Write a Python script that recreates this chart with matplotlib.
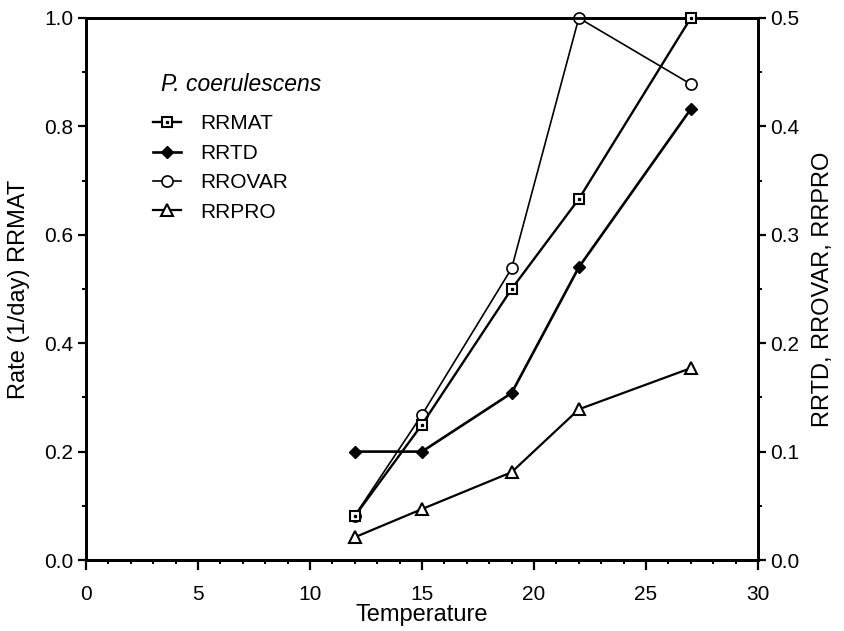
import matplotlib
matplotlib.use("Agg")
import matplotlib.pyplot as plt
from matplotlib.ticker import MultipleLocator
from matplotlib.legend_handler import HandlerTuple

plt.rcParams['font.family'] = ['Liberation Sans', 'DejaVu Sans']

# Temperatures (deg C) at which rates were measured
temperature = [12, 15, 19, 22, 27]

# Left axis: maturation rate (1/day)
rrmat = [0.081, 0.250, 0.500, 0.666, 1.000]

# Right axis rates (1/day)
rrtd = [0.100, 0.100, 0.154, 0.270, 0.416]
rrovar = [0.041, 0.134, 0.269, 0.500, 0.439]
rrpro = [0.021, 0.047, 0.081, 0.139, 0.177]

species = "P. coerulescens"
series_labels = ["RRMAT", "RRTD", "RROVAR", "RRPRO"]

fig = plt.figure(figsize=(8.44, 6.31), dpi=100)
ax = fig.add_axes([86 / 844, 71 / 631, 672 / 844, 542 / 631])
ax2 = ax.twinx()
# keep the left-axis series drawn above the right-axis ones
ax.set_zorder(ax2.get_zorder() + 1)
ax.patch.set_visible(False)

# Left axis series
l_mat, = ax.plot(temperature, rrmat, color='black', lw=1.7, marker='s',
                 ms=6.5, mfc='white', mec='black', mew=1.5, clip_on=False,
                 zorder=3)
l_matdot, = ax.plot(temperature, rrmat, ls='none', marker='s', ms=1.4,
                    mfc='black', mec='black', clip_on=False, zorder=4)

# Right axis series
l_td, = ax2.plot(temperature, rrtd, color='black', lw=1.9, marker='D',
                 ms=6, mfc='black', mec='black', clip_on=False, zorder=3)
l_ov, = ax2.plot(temperature, rrovar, color='black', lw=1.2, marker='o',
                 ms=8, mfc='white', mec='black', mew=1.2, clip_on=False,
                 zorder=3)
l_pr, = ax2.plot(temperature, rrpro, color='black', lw=1.6, marker='^',
                 ms=9, mfc='white', mec='black', mew=1.5, clip_on=False,
                 zorder=3)

ax.set_xlim(0, 30)
ax.set_ylim(0, 1.0)
ax2.set_ylim(0, 0.5)

ax.xaxis.set_major_locator(MultipleLocator(5))
ax.xaxis.set_minor_locator(MultipleLocator(1))
ax.yaxis.set_major_locator(MultipleLocator(0.2))
ax.yaxis.set_minor_locator(MultipleLocator(0.1))
ax2.yaxis.set_major_locator(MultipleLocator(0.1))
ax2.yaxis.set_minor_locator(MultipleLocator(0.05))

ax.yaxis.set_major_formatter(plt.FuncFormatter(lambda v, p: f"{v:.1f}"))
ax2.yaxis.set_major_formatter(plt.FuncFormatter(lambda v, p: f"{v:.1f}"))

for a in (ax, ax2):
    for s in a.spines.values():
        s.set_linewidth(2.0)
    a.tick_params(which='major', direction='out', length=6, width=1.6,
                  labelsize=15, pad=3)
    a.tick_params(which='minor', direction='out', length=3, width=1.4)

ax.tick_params(axis='x', which='major', length=7, pad=11)

ax.set_xlabel("Temperature", fontsize=17, labelpad=0)
ax.set_ylabel("Rate (1/day) RRMAT", fontsize=17, labelpad=10)
ax2.set_ylabel("RRTD, RROVAR, RRPRO", fontsize=17, labelpad=9)

# Species name above the legend
ax.text(0.112, 0.866, species, transform=ax.transAxes, fontsize=16.5,
        style='italic', ha='left', va='baseline')

handles = [(l_mat, l_matdot), l_td, l_ov, l_pr]
ax.legend(handles, series_labels, loc='upper left',
          bbox_to_anchor=(0.1, 0.822), frameon=False, fontsize=15,
          borderpad=0, handlelength=1.35, handletextpad=0.9,
          labelspacing=0.5, borderaxespad=0,
          handler_map={tuple: HandlerTuple(ndivide=1)})

fig.savefig("out.png", dpi=100)
